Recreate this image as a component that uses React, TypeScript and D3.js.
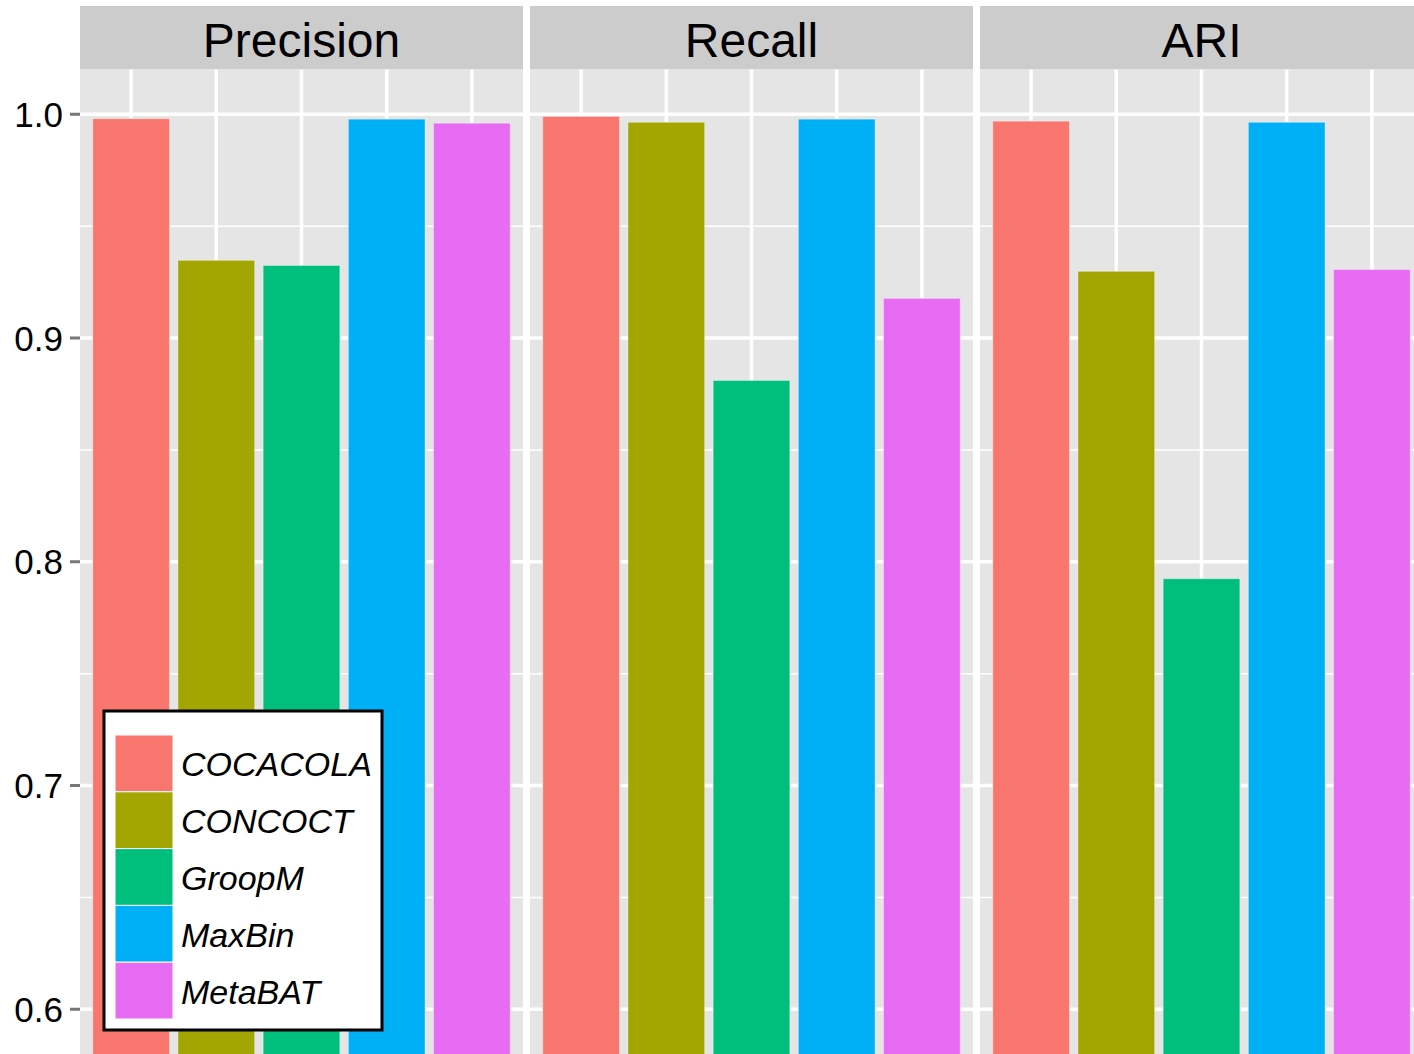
import React from "react";
import * as d3 from "d3";

const metrics = ["Precision", "Recall", "ARI"];
const methods = ["COCACOLA", "CONCOCT", "GroopM", "MaxBin", "MetaBAT"];
const precisionValues = [0.998, 0.9347, 0.9324, 0.9978, 0.996];
const recallValues = [0.999, 0.9964, 0.881, 0.9978, 0.9177];
const ariValues = [0.9969, 0.9298, 0.7924, 0.9964, 0.9306];
const seriesByMetric = [precisionValues, recallValues, ariValues];
const colors = ["#F8766D", "#A3A500", "#00BF7D", "#00B0F6", "#E76BF3"];
const yTicks = [0.6, 0.7, 0.8, 0.9, 1.0];
const yMinor = [0.65, 0.75, 0.85, 0.95];

const W = 1414;
const H = 1054;
const stripTop = 6;
const stripBottom = 69.5;
const panelTop = 69.5;
const panelBottom = 1054;
const panelLeft = 80;
const panelW = 443;
const panelGap = 7;
const font = "'Liberation Sans', Arial, sans-serif";

export default function App() {
  const y = d3.scaleLinear().domain([0.58, 1.02]).range([panelBottom, panelTop]);
  const x = d3.scaleBand<string>().domain(methods).range([0, panelW]).paddingInner(0.1).paddingOuter(0.15);

  const legendX = 104, legendY = 711, legendW = 278, legendH = 319;
  const keyX = 115, keyY0 = 735, keyW = 58, keyH = 56.8;

  return (
    <svg width={W} height={H} style={{ position: "absolute", left: 0, top: 0, background: "#fff" }}>
      <defs>
        {metrics.map((m, i) => (
          <clipPath id={`clip${i}`} key={m}>
            <rect x={panelLeft + i * (panelW + panelGap)} y={panelTop} width={panelW} height={panelBottom - panelTop} />
          </clipPath>
        ))}
      </defs>
      {metrics.map((m, i) => {
        const px = panelLeft + i * (panelW + panelGap);
        const vals = seriesByMetric[i];
        return (
          <g key={m}>
            <rect x={px} y={stripTop} width={panelW} height={stripBottom - stripTop} fill="#CCCCCC" />
            <text x={px + panelW / 2} y={57} textAnchor="middle" fontFamily={font} fontSize={48} fill="#000">{m}</text>
            <g clipPath={`url(#clip${i})`}>
              <rect x={px} y={panelTop} width={panelW} height={panelBottom - panelTop} fill="#E5E5E5" />
              {yMinor.map((t) => (
                <line key={t} x1={px} x2={px + panelW} y1={y(t)} y2={y(t)} stroke="#fff" strokeWidth={1.5} />
              ))}
              {yTicks.map((t) => (
                <line key={t} x1={px} x2={px + panelW} y1={y(t)} y2={y(t)} stroke="#fff" strokeWidth={3.5} />
              ))}
              {methods.map((c) => (
                <line key={c} x1={px + x(c)! + x.bandwidth() / 2} x2={px + x(c)! + x.bandwidth() / 2} y1={panelTop} y2={panelBottom} stroke="#fff" strokeWidth={3.5} />
              ))}
              {methods.map((c, j) => (
                <rect key={c} x={px + x(c)!} y={y(vals[j])} width={x.bandwidth()} height={panelBottom + 20 - y(vals[j])} fill={colors[j]} stroke="#fff" strokeOpacity={0.35} strokeWidth={1} />
              ))}
            </g>
          </g>
        );
      })}
      {yTicks.map((t) => (
        <g key={t}>
          <line x1={70} x2={80} y1={y(t)} y2={y(t)} stroke="#777" strokeWidth={3} />
          <text x={63} y={y(t) + 12.5} textAnchor="end" fontFamily={font} fontSize={35} fill="#000">{t.toFixed(1)}</text>
        </g>
      ))}
      <rect x={legendX} y={legendY} width={legendW} height={legendH} fill="#fff" stroke="#000" strokeWidth={3} />
      {methods.map((c, j) => (
        <g key={c}>
          <rect x={keyX} y={keyY0 + j * keyH} width={keyW} height={keyH} fill={colors[j]} stroke="#fff" strokeWidth={1} />
          <text x={181} y={keyY0 + j * keyH + keyH / 2 + 13} fontFamily={font} fontStyle="italic" fontSize={34} fill="#000">{c}</text>
        </g>
      ))}
    </svg>
  );
}
